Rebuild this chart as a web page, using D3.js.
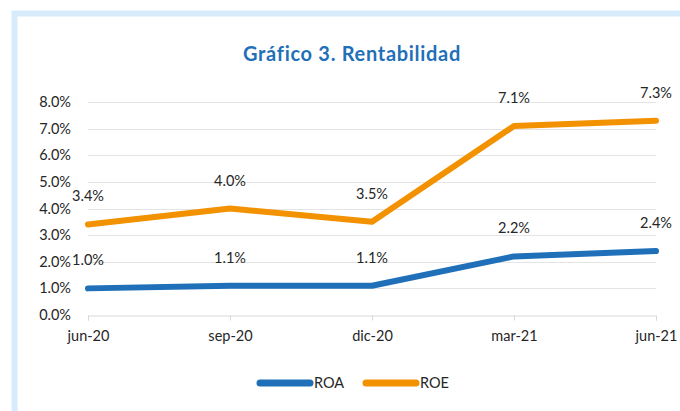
<!DOCTYPE html>
<html>
<head>
<meta charset="utf-8">
<script src="https://cdn.jsdelivr.net/npm/d3@7"></script>
<style>
  html, body { margin: 0; padding: 0; background: #fff; }
  svg { display: block; font-family: Lato, "Open Sans", sans-serif; }
</style>
</head>
<body>
<div id="chart"></div>
<script>
// Gráfico 3. Rentabilidad
const periods = ['jun-20', 'sep-20', 'dic-20', 'mar-21', 'jun-21'];
const roa = [1.0, 1.1, 1.1, 2.2, 2.4];
const roe = [3.4, 4.0, 3.5, 7.1, 7.3];
const yTicks = [0, 1, 2, 3, 4, 5, 6, 7, 8];

const series = [
  { name: 'ROA', values: roa, color: '#1f70b9' },
  { name: 'ROE', values: roe, color: '#f39200' }
];

const width = 680, height = 411;
const svg = d3.select('#chart').append('svg')
  .attr('width', width)
  .attr('height', height);

// marco azul claro
svg.append('rect')
  .attr('x', 14.5).attr('y', 13.5)
  .attr('width', 700).attr('height', 420)
  .style('fill', '#fff')
  .style('stroke', '#d6ebfb')
  .style('stroke-width', 6);

// título
svg.append('text')
  .attr('x', 352).attr('y', 61)
  .attr('text-anchor', 'middle')
  .style('font-size', '20px')
  .style('font-weight', 'bold')
  .style('letter-spacing', '0.7px')
  .style('fill', '#1f70b9')
  .text('Gráfico 3. Rentabilidad');

// escalas
const x = d3.scalePoint().domain(periods).range([88, 656]);
const y = d3.scaleLinear().domain([0, 8]).range([315, 102]);

// líneas de cuadrícula
svg.append('g')
  .selectAll('line')
  .data(yTicks.slice(1))
  .join('line')
  .attr('x1', 88).attr('x2', 656)
  .attr('y1', d => Math.round(y(d)) + 0.5)
  .attr('y2', d => Math.round(y(d)) + 0.5)
  .style('stroke', '#e4e4e4')
  .style('stroke-width', 1);

// eje Y (solo etiquetas)
svg.append('g')
  .selectAll('text')
  .data(yTicks)
  .join('text')
  .attr('x', 71)
  .attr('y', d => y(d) + 5)
  .attr('text-anchor', 'end')
  .style('font-size', '14.5px')
  .style('fill', '#262626')
  .text(d => d.toFixed(1) + '%');

// eje X
const xAxis = svg.append('g')
  .attr('transform', `translate(0,${Math.round(y(0)) + 0.5})`)
  .call(d3.axisBottom(x).tickSize(5).tickPadding(10));
xAxis.select('.domain').style('stroke', '#d9d9d9');
xAxis.selectAll('.tick line').style('stroke', '#d9d9d9');
xAxis.selectAll('.tick text')
  .style('font-family', 'Lato, "Open Sans", sans-serif')
  .style('font-size', '14.5px')
  .style('fill', '#262626');

// líneas de series
const line = d3.line()
  .x((d, i) => x(periods[i]))
  .y(d => y(d));

svg.append('g')
  .selectAll('path')
  .data(series)
  .join('path')
  .attr('d', d => line(d.values))
  .style('fill', 'none')
  .style('stroke', d => d.color)
  .style('stroke-width', 6)
  .style('stroke-linecap', 'round')
  .style('stroke-linejoin', 'round');

// etiquetas de datos
series.forEach(s => {
  svg.append('g')
    .selectAll('text')
    .data(s.values)
    .join('text')
    .attr('x', (d, i) => x(periods[i]))
    .attr('y', d => y(d) - 23)
    .attr('text-anchor', 'middle')
    .style('font-size', '14.5px')
    .style('fill', '#262626')
    .text(d => d.toFixed(1) + '%');
});

// leyenda
const legendItems = [
  { name: 'ROA', color: '#1f70b9', x: 260 },
  { name: 'ROE', color: '#f39200', x: 366 }
];
const legend = svg.append('g');
legendItems.forEach(item => {
  legend.append('line')
    .attr('x1', item.x).attr('x2', item.x + 50)
    .attr('y1', 383).attr('y2', 383)
    .style('stroke', item.color)
    .style('stroke-width', 7)
    .style('stroke-linecap', 'round');
  legend.append('text')
    .attr('x', item.x + 54)
    .attr('y', 388)
    .style('font-size', '14.5px')
    .style('fill', '#262626')
    .text(item.name);
});
</script>
</body>
</html>
